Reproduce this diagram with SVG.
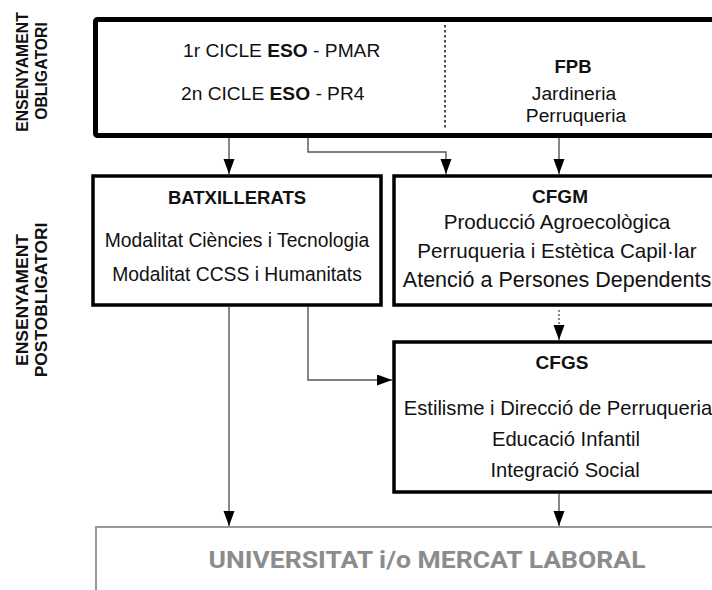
<svg xmlns="http://www.w3.org/2000/svg" width="712" height="590" viewBox="0 0 712 590">
<style>
  text { font-family: "Liberation Sans", Arial, sans-serif; fill: #111; }
  .b { font-weight: bold; }
  .side { font-weight: bold; }
  .box { fill: #fff; stroke: #000; }
  .conn { fill: none; stroke: #555; stroke-width: 1.4; }
</style>
<defs>
  <marker id="arr" markerUnits="userSpaceOnUse" markerWidth="16" markerHeight="12" refX="15" refY="5.5" orient="auto">
    <path d="M0,0 L15,5.5 L0,11 Z" fill="#000"/>
  </marker>
</defs>
<rect width="712" height="590" fill="#fff"/>

<g id="label-obligatori">
  <text class="side" font-size="15.8" text-anchor="middle" transform="translate(28,72) rotate(-90)">ENSENYAMENT</text>
  <text class="side" font-size="15.8" text-anchor="middle" transform="translate(47,71) rotate(-90)">OBLIGATORI</text>
</g>
<g id="label-postobligatori">
  <text class="side" font-size="17.4" text-anchor="middle" transform="translate(28,300) rotate(-90)">ENSENYAMENT</text>
  <text class="side" font-size="17.4" text-anchor="middle" transform="translate(47,300) rotate(-90)">POSTOBLIGATORI</text>
</g>

<g id="obligatori">
  <rect class="box" x="95.5" y="19.5" width="630" height="116" rx="2" stroke-width="5"/>
  <line x1="445" y1="25" x2="445" y2="129" stroke="#222" stroke-width="1.6" stroke-dasharray="2.5,2.5"/>
  <text x="183" y="57" font-size="19.2">1r CICLE <tspan class="b">ESO</tspan> - PMAR</text>
  <text x="181" y="100" font-size="19.2">2n CICLE <tspan class="b">ESO</tspan> - PR4</text>
  <text class="b" x="573" y="73" font-size="18.5" text-anchor="middle">FPB</text>
  <text x="574" y="100" font-size="19.2" text-anchor="middle">Jardineria</text>
  <text x="576" y="122" font-size="19.2" text-anchor="middle">Perruqueria</text>
</g>

<g id="batxillerats">
  <rect class="box" x="93" y="176" width="288" height="129" stroke-width="3.5"/>
  <text class="b" x="237" y="204" font-size="18.5" text-anchor="middle">BATXILLERATS</text>
  <text x="237" y="247" font-size="19.3" text-anchor="middle">Modalitat Ciències i Tecnologia</text>
  <text x="237" y="281" font-size="19.3" text-anchor="middle">Modalitat CCSS i Humanitats</text>
</g>

<g id="cfgm">
  <rect class="box" x="394" y="176" width="330" height="129" stroke-width="3.5"/>
  <text class="b" x="560" y="203" font-size="19" text-anchor="middle">CFGM</text>
  <text x="557" y="229" font-size="20.6" text-anchor="middle">Producció Agroecològica</text>
  <text x="557" y="258" font-size="20.6" text-anchor="middle">Perruqueria i Estètica Capil·lar</text>
  <text x="557" y="287" font-size="21.5" text-anchor="middle">Atenció a Persones Dependents</text>
</g>

<g id="cfgs">
  <rect class="box" x="394" y="342" width="330" height="150" stroke-width="3.5"/>
  <text class="b" x="562" y="369" font-size="19" text-anchor="middle">CFGS</text>
  <text x="558" y="415" font-size="20.2" text-anchor="middle">Estilisme i Direcció de Perruqueria</text>
  <text x="566" y="446" font-size="20.2" text-anchor="middle">Educació Infantil</text>
  <text x="565" y="477" font-size="20.2" text-anchor="middle">Integració Social</text>
</g>

<g id="universitat">
  <rect x="96" y="527" width="630" height="80" fill="#fff" stroke="#999" stroke-width="2"/>
  <text x="427" y="568" font-size="23" text-anchor="middle" textLength="437" lengthAdjust="spacingAndGlyphs" style="font-family: Roboto, 'Liberation Sans', sans-serif; font-weight: bold; fill: #8c8c8c;">UNIVERSITAT i/o MERCAT LABORAL</text>
</g>

<g id="connectors">
  <path class="conn" d="M229,138 V174" marker-end="url(#arr)"/>
  <path class="conn" d="M308,138 V152 H446 V174" marker-end="url(#arr)"/>
  <path class="conn" d="M559,138 V174" marker-end="url(#arr)"/>
  <path class="conn" d="M229,307 V526" marker-end="url(#arr)"/>
  <path class="conn" d="M308,307 V380 H392" marker-end="url(#arr)"/>
  <path class="conn" d="M559,310 V340" stroke-dasharray="2,2" marker-end="url(#arr)"/>
  <path class="conn" d="M559,494 V526" marker-end="url(#arr)"/>
</g>
</svg>
